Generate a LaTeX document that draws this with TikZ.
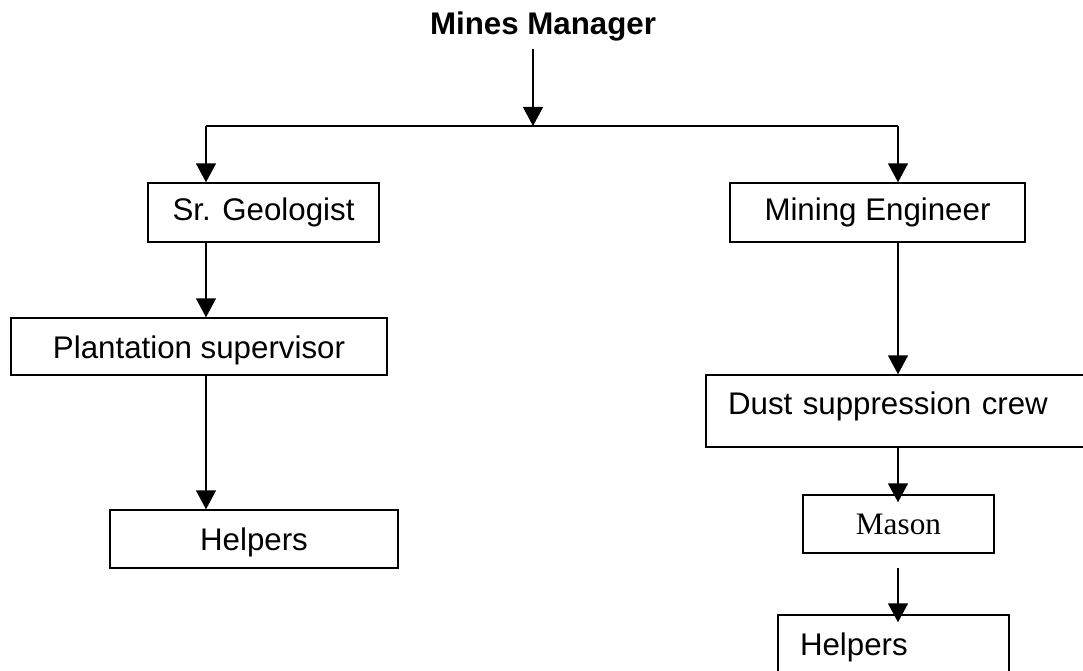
\documentclass[tikz,border=0pt]{standalone}
\usepackage{fontspec}
\setmainfont{Liberation Sans}
\newfontfamily\timesfont{Liberation Serif}
\usetikzlibrary{arrows.meta}
\tikzset{
	post/.style={draw, line width=0.8pt, rectangle, inner sep=0pt},
	link/.style={line width=0.8pt, -{Triangle[length=0.38cm,width=0.4cm]}}
}
\begin{document}
\begin{tikzpicture}[x=0.02cm, y=-0.02cm, font=\fontsize{17.8pt}{21pt}\selectfont]
	\useasboundingbox (0,0) rectangle (1083,671);%Rahmen
	\clip (0,0) rectangle (1083,671);
	\node[anchor=base, inner sep=4pt, font=\fontsize{17.8pt}{21pt}\selectfont\bfseries] (mm) at (543,35) {Mines Manager};%Leiter
	\coordinate (jn) at (533,126);%Verzweigung
	\coordinate (lc) at (206,126);%linke Spalte
	\coordinate (rc) at (898,126);%rechte Spalte
	\node[post, minimum width=4.62cm, minimum height=1.18cm] (sr) at (263.5,212.5) {Sr. Geologist};
	\node[post, minimum width=7.52cm, minimum height=1.14cm, text height=0.5cm, text depth=0pt] (ps) at (199,346.5) {Plantation supervisor};
	\node[post, minimum width=5.76cm, minimum height=1.16cm, text depth=0pt] (hl) at (254,539) {Helpers};
	\node[post, minimum width=5.9cm, minimum height=1.18cm] (me) at (877.5,212.5) {Mining Engineer};
	\node[post, minimum height=1.44cm, inner xsep=0.44cm, text width=6.8cm, align=left, text height=0.45cm, text depth=0.29cm] (dust) at (898,411) {Dust suppression crew};
	\node[post, minimum width=3.82cm, minimum height=1.16cm, font=\fontsize{17.8pt}{21pt}\timesfont] (mason) at (898.5,524) {Mason};
	\node[post, minimum height=1.28cm, inner xsep=0.44cm, text width=3.74cm, align=left] (hr) at (893.5,647) {Helpers};
	\draw[link] (mm.south -| jn) -- (jn);%nach unten
	\draw[line width=0.8pt] (lc) -- (rc);%Querlinie
	\draw[link] (lc) -- (lc |- sr.north);
	\draw[link] (rc) -- (rc |- me.north);
	\draw[link] (lc |- sr.south) -- (lc |- ps.north);
	\draw[link] (lc |- ps.south) -- (lc |- hl.north);
	\draw[link] (rc |- me.south) -- (rc |- dust.north);
	\draw[link, shorten >=-0.16cm] (rc |- dust.south) -- (rc |- mason.north);
	\draw[link, shorten <=0.28cm, shorten >=-0.16cm] (rc |- mason.south) -- (rc |- hr.north);
\end{tikzpicture}
\end{document}
